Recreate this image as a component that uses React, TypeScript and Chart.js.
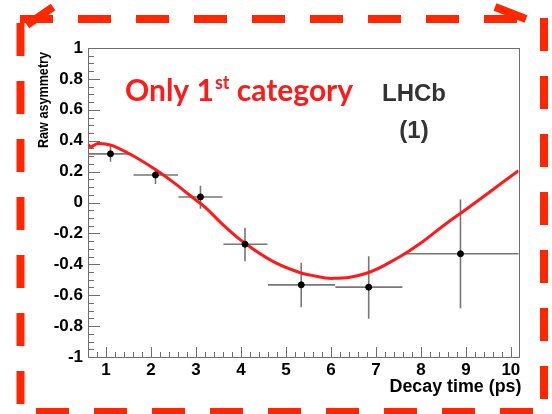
import React, { useEffect, useRef } from 'react';
import { Chart, registerables } from 'chart.js';

Chart.register(...registerables);

// ---- data ----
const xRange = [0.6, 10.17];
const yRange = [-1, 1];
const xTickValues = [1, 2, 3, 4, 5, 6, 7, 8, 9, 10];
const yTickValues = [-1, -0.8, -0.6, -0.4, -0.2, 0, 0.2, 0.4, 0.6, 0.8, 1];

const pointX = [1.1, 2.1, 3.1, 4.09, 5.34, 6.84, 8.88];
const pointY = [0.315, 0.178, 0.036, -0.27, -0.533, -0.548, -0.332];
const pointXLow = [0.6, 1.61, 2.61, 3.61, 4.6, 6.1, 7.6];
const pointXHigh = [1.53, 2.6, 3.59, 4.59, 6.09, 7.59, 10.17];
const pointYLow = [0.263, 0.12, -0.04, -0.38, -0.678, -0.753, -0.684];
const pointYHigh = [0.364, 0.224, 0.109, -0.164, -0.39, -0.348, 0.019];

const curveX = [0.6, 0.66, 0.72, 0.82, 1.0, 1.2, 1.64, 2.09, 2.53, 2.87, 3.2, 3.61, 4.09, 4.72, 5.31, 5.53, 6.05, 6.79, 7.53, 8.0, 8.5, 9.0, 9.5, 10.17];
const curveY = [0.375, 0.36, 0.368, 0.382, 0.378, 0.362, 0.296, 0.215, 0.124, 0.045, -0.03, -0.146, -0.264, -0.383, -0.454, -0.469, -0.491, -0.458, -0.351, -0.262, -0.15, -0.045, 0.062, 0.206];

const X_TITLE = 'Decay time (ps)';
const Y_TITLE = 'Raw asymmetry';

const AXIS_GRAY = '#6e6e6e';
const BORDER_RED = '#ff2600';
const TEXT_RED = '#ff1a1a';

const decorPlugin = {
  id: 'decor',
  beforeDatasetsDraw(chart: any) {
    const { ctx, chartArea: a, scales } = chart;
    const xs = scales.x;
    const ys = scales.y;
    ctx.save();
    // frame
    ctx.strokeStyle = AXIS_GRAY;
    ctx.lineWidth = 1;
    ctx.strokeRect(Math.round(a.left) + 0.5, Math.round(a.top) + 0.5, Math.round(a.right - a.left), Math.round(a.bottom - a.top));
    // y ticks (inward)
    for (let i = 0; i <= 40; i++) {
      const v = -1 + i * 0.05;
      const py = Math.round(ys.getPixelForValue(v)) + 0.5;
      const len = i % 4 === 0 ? 12 : 6;
      ctx.beginPath();
      ctx.moveTo(a.left, py);
      ctx.lineTo(a.left + len, py);
      ctx.stroke();
    }
    // x ticks (inward)
    for (let i = 0; i <= 48; i++) {
      const v = 0.6 + i * 0.2;
      if (v > xRange[1] + 1e-6) break;
      const px = Math.round(xs.getPixelForValue(v)) + 0.5;
      const major = Math.abs(v - Math.round(v)) < 1e-6;
      const len = major ? 10 : 5;
      ctx.beginPath();
      ctx.moveTo(px, a.bottom);
      ctx.lineTo(px, a.bottom - len);
      ctx.stroke();
    }
    // error bars
    ctx.strokeStyle = '#777777';
    ctx.lineWidth = 1.6;
    for (let i = 0; i < pointX.length; i++) {
      const cx = xs.getPixelForValue(pointX[i]);
      const cy = ys.getPixelForValue(pointY[i]);
      ctx.beginPath();
      ctx.moveTo(xs.getPixelForValue(pointXLow[i]), cy);
      ctx.lineTo(xs.getPixelForValue(pointXHigh[i]), cy);
      ctx.moveTo(cx, ys.getPixelForValue(pointYLow[i]));
      ctx.lineTo(cx, ys.getPixelForValue(pointYHigh[i]));
      ctx.stroke();
    }
    ctx.restore();
  },
  afterDraw(chart: any) {
    const { ctx, chartArea: a } = chart;
    ctx.save();
    // axis titles
    ctx.fillStyle = '#000';
    ctx.font = 'bold 18px "Liberation Sans", Arial, sans-serif';
    ctx.textAlign = 'right';
    ctx.textBaseline = 'middle';
    ctx.fillText(X_TITLE, a.right + 3, 387, 132);
    ctx.save();
    ctx.translate(44, 52);
    ctx.rotate(-Math.PI / 2);
    ctx.font = 'bold 15px "Liberation Sans", Arial, sans-serif';
    ctx.textAlign = 'right';
    ctx.textBaseline = 'middle';
    ctx.fillText(Y_TITLE, 0, 0, 96);
    ctx.restore();

    // red annotation "Only 1st category"
    ctx.fillStyle = TEXT_RED;
    ctx.textAlign = 'left';
    ctx.textBaseline = 'alphabetic';
    const big = 'bold 30px Lato, "Liberation Sans", sans-serif';
    const small = 'bold 18px Lato, "Liberation Sans", sans-serif';
    let x = 125;
    const base = 101;
    ctx.font = big;
    ctx.fillText('Only 1', x, base);
    x += ctx.measureText('Only 1').width + 1;
    ctx.font = small;
    ctx.fillText('st', x, base - 12);
    x += ctx.measureText('st').width;
    ctx.font = big;
    ctx.fillText(' category', x, base);

    // LHCb label
    ctx.fillStyle = '#333333';
    ctx.textAlign = 'center';
    ctx.font = 'bold 24px "Liberation Sans", Arial, sans-serif';
    ctx.fillText('LHCb', 414, 101);
    ctx.fillText('(1)', 414, 138);

    // dashed red border
    ctx.strokeStyle = BORDER_RED;
    ctx.lineWidth = 8;
    ctx.lineCap = 'butt';
    ctx.setLineDash([33, 25]);
    ctx.lineDashOffset = 0;
    // top
    ctx.beginPath();
    ctx.moveTo(20, 19);
    ctx.lineTo(518, 19);
    ctx.stroke();
    // left
    ctx.beginPath();
    ctx.moveTo(20.5, 23);
    ctx.lineTo(20.5, 414);
    ctx.stroke();
    // right
    ctx.beginPath();
    ctx.moveTo(544, 18);
    ctx.lineTo(544, 414);
    ctx.stroke();
    // bottom
    ctx.beginPath();
    ctx.moveTo(36, 412);
    ctx.lineTo(552, 412);
    ctx.stroke();
    ctx.setLineDash([]);
    // corner diagonals
    ctx.beginPath();
    ctx.moveTo(27, 25);
    ctx.lineTo(53, 7);
    ctx.stroke();
    ctx.beginPath();
    ctx.moveTo(495, 7);
    ctx.lineTo(526, 19);
    ctx.stroke();
    ctx.restore();
  },
};

export default function App() {
  const ref = useRef<HTMLCanvasElement | null>(null);

  useEffect(() => {
    if (!ref.current) return;
    const chart = new Chart(ref.current, {
      type: 'scatter',
      data: {
        datasets: [
          {
            type: 'line',
            label: 'fit',
            data: curveX.map((x, i) => ({ x, y: curveY[i] })),
            borderColor: TEXT_RED,
            borderWidth: 3,
            pointRadius: 0,
            tension: 0.4,
            fill: false,
            order: 2,
          } as any,
          {
            type: 'scatter',
            label: 'data',
            data: pointX.map((x, i) => ({ x, y: pointY[i] })),
            backgroundColor: '#000000',
            borderColor: '#000000',
            pointRadius: 3,
            order: 1,
          },
        ],
      },
      options: {
        responsive: false,
        animation: false,
        devicePixelRatio: 1,
        layout: { padding: { left: 0, top: 48, right: 33.5, bottom: 0 } },
        plugins: {
          legend: { display: false },
          tooltip: { enabled: false },
        },
        scales: {
          x: {
            type: 'linear',
            min: xRange[0],
            max: xRange[1],
            grid: { display: false, drawTicks: false },
            border: { display: false },
            afterBuildTicks: (s: any) => {
              s.ticks = xTickValues.map((v) => ({ value: v }));
            },
            afterFit: (s: any) => {
              s.height = 57;
            },
            ticks: {
              color: '#000',
              font: { family: '"Liberation Sans", Arial, sans-serif', size: 17, weight: 'bold' },
              padding: 3,
              maxRotation: 0,
              autoSkip: false,
              callback: (v: any) => String(v),
            },
          },
          y: {
            type: 'linear',
            min: yRange[0],
            max: yRange[1],
            grid: { display: false, drawTicks: false },
            border: { display: false },
            afterBuildTicks: (s: any) => {
              s.ticks = yTickValues.map((v) => ({ value: v }));
            },
            afterFit: (s: any) => {
              s.width = 88;
            },
            ticks: {
              color: '#000',
              font: { family: '"Liberation Sans", Arial, sans-serif', size: 17, weight: 'bold' },
              padding: 5,
              autoSkip: false,
              callback: (v: any) => String(v),
            },
          },
        },
      },
      plugins: [decorPlugin],
    });
    return () => chart.destroy();
  }, []);

  return (
    <div style={{ position: 'fixed', left: 0, top: 0, width: 552, height: 414, background: '#fff' }}>
      <canvas ref={ref} width={552} height={414} style={{ display: 'block' }} />
    </div>
  );
}
